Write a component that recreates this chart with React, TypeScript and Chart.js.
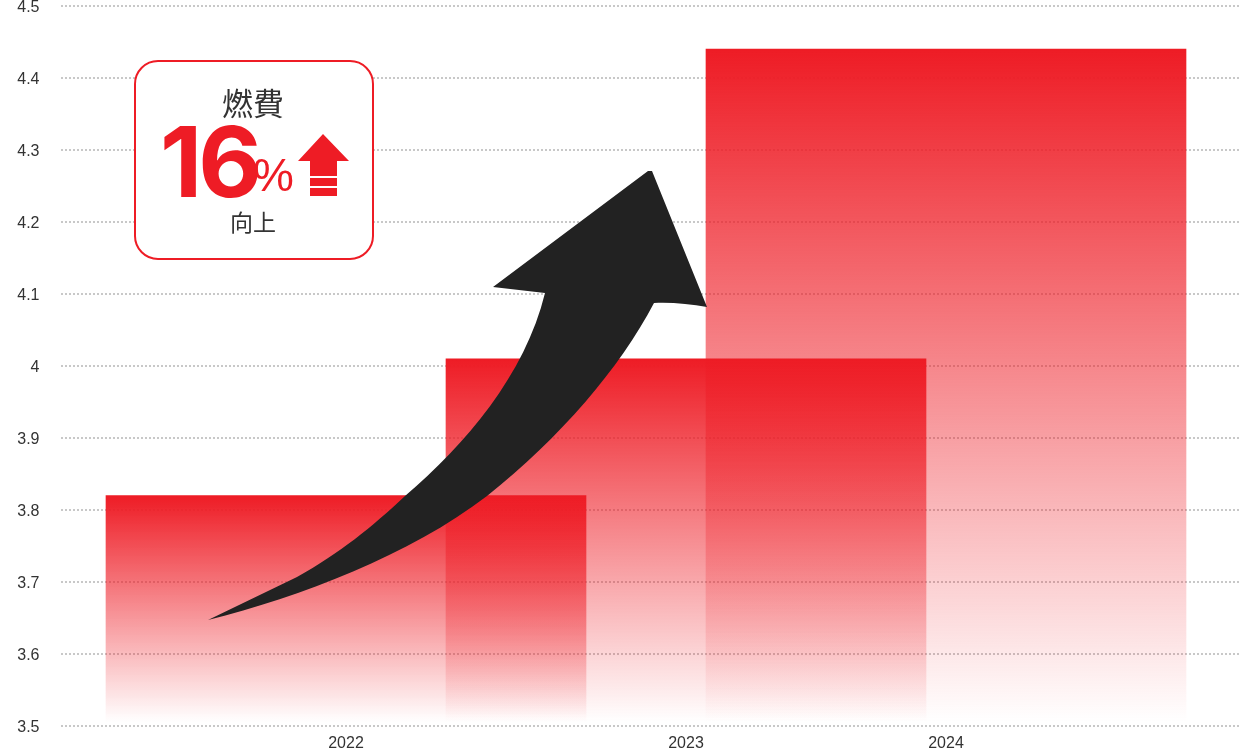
import { useEffect, useRef } from 'react';
import { Chart, registerables } from 'chart.js';
import type { Plugin } from 'chart.js';

Chart.register(...registerables);

const yearLabels = ['2022', '2023', '2024'];
// the years are not evenly spaced on the axis, so they sit on a linear scale
const yearSlots = [0, 17, 30];
const fuelValues = [3.82, 4.01, 4.44];

const RED = '#ee1c25';
const TEXT = '#333333';
const ARROW_PATH =
  'M208 620 L297 577 C340 553 372 527 405 496 C465 445 525 375 545 293 ' +
  'L493 287 L648 171 L652 171 L707 307 C690 304 670 302 654 303 ' +
  'C620 368 560 438 487 496 C410 555 300 597 208 620 Z';

const arrowPlugin: Plugin<'bar'> = {
  id: 'bigArrow',
  afterDraw(chart) {
    const { ctx } = chart;
    ctx.save();
    ctx.fillStyle = '#222222';
    ctx.fill(new Path2D(ARROW_PATH));
    ctx.restore();
  },
};

function Callout() {
  return (
    <div
      style={{
        position: 'absolute',
        left: 134,
        top: 60,
        width: 236,
        height: 196,
        border: `2px solid ${RED}`,
        borderRadius: 24,
        background: '#fff',
        fontFamily: '"Noto Sans CJK JP", sans-serif',
        color: TEXT,
      }}
    >
      <div style={{ position: 'absolute', left: -1, width: 236, top: 18, textAlign: 'center', fontSize: 31, lineHeight: '44px', fontWeight: 400 }}>
        燃費
      </div>
      <div
        style={{
          position: 'absolute',
          left: 24,
          top: 45,
          fontFamily: 'Inter, sans-serif',
          fontWeight: 700,
          fontSize: 98,
          lineHeight: '110px',
          letterSpacing: -4,
          color: RED,
        }}
      >
        16
      </div>
      <div
        style={{
          position: 'absolute',
          left: 117,
          top: 88,
          fontFamily: '"Liberation Sans", sans-serif',
          fontSize: 46,
          lineHeight: '50px',
          color: RED,
        }}
      >
        %
      </div>
      <svg style={{ position: 'absolute', left: 160, top: 70 }} width="56" height="68" viewBox="0 0 56 68">
        <path d="M27 2 L53 29 L41 29 L41 44 L14 44 L14 29 L2 29 Z" fill={RED} />
        <rect x="14" y="46" width="27" height="8" fill={RED} />
        <rect x="14" y="56" width="27" height="8" fill={RED} />
      </svg>
      <div style={{ position: 'absolute', left: -1, width: 236, top: 142, textAlign: 'center', fontSize: 23, lineHeight: '34px', fontWeight: 400 }}>
        向上
      </div>
    </div>
  );
}

export default function App() {
  const canvasRef = useRef<HTMLCanvasElement>(null);

  useEffect(() => {
    const canvas = canvasRef.current;
    if (!canvas) return;

    const chart = new Chart(canvas, {
      type: 'bar',
      data: {
        datasets: [
          {
            data: yearSlots.map((x, i) => ({ x, y: fuelValues[i] })),
            barThickness: 480,
            borderWidth: 0,
            backgroundColor: (c) => {
              const { scales, ctx, chartArea } = c.chart;
              if (!chartArea || c.dataIndex == null) return RED;
              const top = scales.y.getPixelForValue(fuelValues[c.dataIndex]);
              const bottom = scales.y.getPixelForValue(3.5) - 4;
              if (!Number.isFinite(top) || !Number.isFinite(bottom)) return RED;
              const grad = ctx.createLinearGradient(0, top, 0, bottom);
              grad.addColorStop(0, 'rgba(238,28,37,1)');
              grad.addColorStop(1, 'rgba(238,28,37,0)');
              return grad;
            },
          },
        ],
      },
      options: {
        responsive: false,
        animation: false,
        layout: { padding: { top: 6, right: 0, left: 0, bottom: 0 } },
        plugins: { legend: { display: false }, tooltip: { enabled: false } },
        scales: {
          x: {
            type: 'linear',
            min: -14.25,
            max: 44.7,
            offset: false,
            grid: { display: false },
            border: { display: false },
            afterFit: (s) => {
              s.height = 26;
              s.paddingLeft = 0;
              s.paddingRight = 0;
            },
            afterBuildTicks: (s) => {
              s.ticks = yearSlots.map((value) => ({ value }));
            },
            ticks: {
              autoSkip: false,
              maxRotation: 0,
              padding: 0,
              color: TEXT,
              font: { family: '"Liberation Sans", sans-serif', size: 16 },
              callback: (v) => yearLabels[yearSlots.indexOf(Number(v))] ?? '',
            },
          },
          y: {
            min: 3.5,
            max: 4.5,
            afterFit: (s) => {
              s.width = 61;
              s.paddingTop = 0;
              s.paddingBottom = 0;
            },
            border: { display: false, dash: [2, 2] },
            grid: {
              color: '#c8c8c8',
              lineWidth: 2,
              drawTicks: false,
            },
            ticks: {
              stepSize: 0.1,
              padding: 21.5,
              color: TEXT,
              // blank first line + 3px line height nudges the label 1.5px down
              font: { family: '"Liberation Sans", sans-serif', size: 16, lineHeight: '3px' },
              callback: (v) => ['', String(Math.round(Number(v) * 10) / 10)],
            },
          },
        },
      },
      plugins: [arrowPlugin],
    });

    return () => chart.destroy();
  }, []);

  return (
    <div style={{ position: 'absolute', left: 0, top: 0, width: 1240, height: 752, background: '#fff' }}>
      <canvas ref={canvasRef} width={1240} height={752} style={{ display: 'block' }} />
      <Callout />
    </div>
  );
}
